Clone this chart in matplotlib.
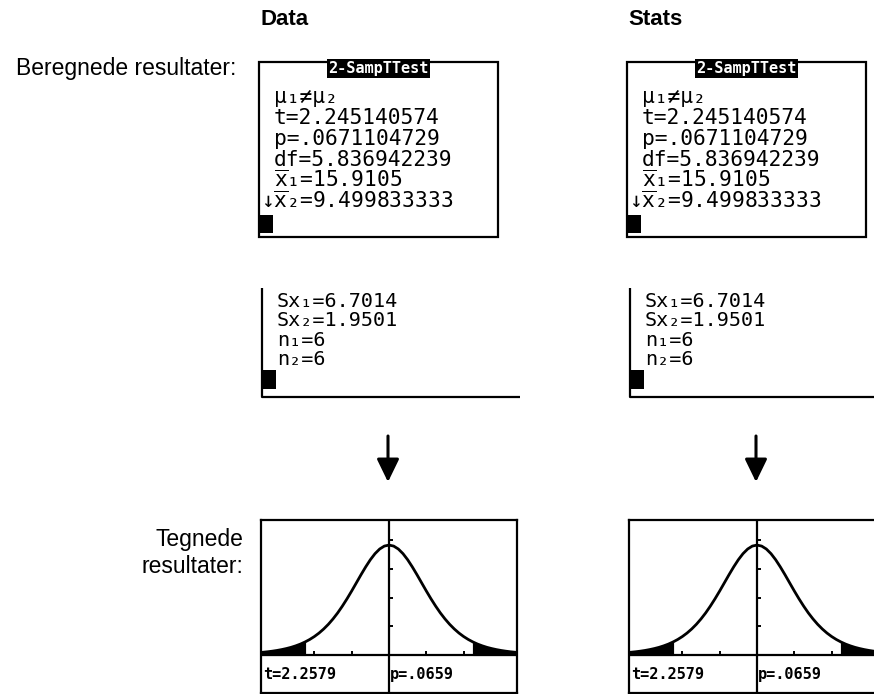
import numpy as np
import matplotlib.pyplot as plt
from matplotlib.patches import Rectangle
from matplotlib import markers

W, H = 874, 694

columns = ['Data', 'Stats']
label_top = 'Beregnede resultater:'
label_bottom = 'Tegnede\nresultater:'
screen_title = '2-SampTTest'
screen1_lines = ['μ₁≠μ₂', 't=2.245140574', 'p=.0671104729', 'df=5.836942239',
                 r'$\overline{\mathtt{x}}$₁=15.9105',
                 r'↓$\overline{\mathtt{x}}$₂=9.499833333']
screen2_lines = ['Sx₁=6.7014', 'Sx₂=1.9501', 'n₁=6', 'n₂=6']
graph_t = 't=2.2579'
graph_p = 'p=.0659'
shade_from = 2.25

# curve heights
curve_x = np.arange(-3.5, 3.5001, 0.125)
half_y = [0.0080, 0.0095, 0.0112, 0.0133, 0.0158, 0.0188, 0.0224, 0.0266,
          0.0318, 0.0379, 0.0453, 0.0540, 0.0643, 0.0764, 0.0906, 0.1069,
          0.1257, 0.1467, 0.1703, 0.1958, 0.2230, 0.2513, 0.2797, 0.3069,
          0.3319, 0.3531, 0.3693, 0.3795, 0.3830]
curve_y = np.array(half_y + half_y[-2::-1])
x_ticks = [-3, -2, -1, 1, 2, 3]
y_ticks = [0.1, 0.2, 0.3, 0.4]

mono = ['DejaVu Sans Mono', 'DejaVu Sans']
sans = ['Liberation Sans', 'DejaVu Sans']
plt.rcParams['mathtext.fontset'] = 'dejavusans'

fig = plt.figure(figsize=(W / 100, H / 100), dpi=100)
ax = fig.add_axes([0, 0, 1, 1])
ax.set_xlim(0, W)
ax.set_ylim(H, 0)
ax.axis('off')

offsets = [0, 368]

# row labels
ax.text(236, 75, label_top, ha='right', va='baseline', fontsize=16.5,
        family=sans)
ax.text(243, 553, label_bottom, ha='right', va='center', fontsize=16.5,
        family=sans, multialignment='right', linespacing=1.2)

for col, dx in zip(columns, offsets):
    ax.text(260 + dx, 25, col, ha='left', va='baseline', fontsize=16,
            fontweight='bold', family=sans)

    # results screen
    ax.add_patch(Rectangle((259 + dx, 62), 239, 175, fill=False, lw=1.6,
                           ec='black'))
    ax.text(378.5 + dx, 68.5, screen_title, ha='center', va='center',
            fontsize=11, fontweight='bold', family=mono, color='white',
            bbox=dict(facecolor='black', edgecolor='none', pad=1.2))
    for i, s in enumerate(screen1_lines):
        x0 = 261 + dx if s.startswith('↓') else 274 + dx
        ax.text(x0, 103 + 21 * i, s, ha='left', va='baseline',
                fontsize=15.3, family=mono)
    ax.add_patch(Rectangle((260 + dx, 215), 13, 18, color='black', lw=0))

    # scrolled screen
    ax.plot([262 + dx, 262 + dx, 520 + dx], [288, 397, 397], color='black',
            lw=1.6, solid_capstyle='butt')
    for i, s in enumerate(screen2_lines):
        ax.text(277 + dx, 306.5 + 19.5 * i, s, ha='left', va='baseline',
                fontsize=14.5, family=mono)
    ax.add_patch(Rectangle((263 + dx, 370), 13, 19, color='black', lw=0))

    # arrow
    ax.annotate('', xy=(388 + dx, 482), xytext=(388 + dx, 436),
                arrowprops=dict(arrowstyle='-|>,head_width=0.34,head_length=0.7',
                                lw=2.2, color='black', mutation_scale=20,
                                shrinkA=0, shrinkB=0))

    # graph screen
    g = fig.add_axes([(261 + dx) / W, (H - 693) / H, 256 / W, 173 / H])
    g.set_xlim(-3.43, 3.43)
    g.set_ylim(-0.1325, 0.4704)
    g.set_xticks([])
    g.set_yticks([])
    for sp in g.spines.values():
        sp.set_linewidth(1.6)
    g.plot(curve_x, curve_y, color='black', lw=2)
    mask = np.abs(curve_x) >= shade_from
    g.fill_between(curve_x, 0, curve_y, where=mask & (curve_x < 0),
                   color='black', lw=0.8)
    g.fill_between(curve_x, 0, curve_y, where=mask & (curve_x > 0),
                   color='black', lw=0.8)
    g.axhline(0, color='black', lw=1.6)
    g.axvline(0, color='black', lw=1.6)
    g.plot(x_ticks, [0] * len(x_ticks), ls='none', marker=markers.TICKUP,
           ms=3, mew=1.4, color='black')
    g.plot([0] * len(y_ticks), y_ticks, ls='none', marker=markers.TICKRIGHT,
           ms=3, mew=1.4, color='black')
    g.text(0.01, 0.105, graph_t, transform=g.transAxes, ha='left',
           va='center', fontsize=11, fontweight='bold', family=mono)
    g.text(0.505, 0.105, graph_p, transform=g.transAxes, ha='left',
           va='center', fontsize=11, fontweight='bold', family=mono)

fig.savefig('out.png', dpi=100)
